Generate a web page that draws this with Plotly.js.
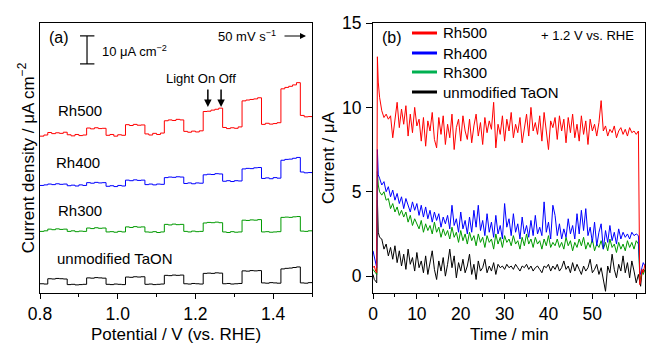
<!DOCTYPE html>
<html>
<head>
<meta charset="utf-8">
<script src="https://cdn.plot.ly/plotly-3.0.1.min.js"></script>
<style>html,body{margin:0;padding:0;background:#fff;}#chart{width:646px;height:344px;}</style>
</head>
<body>
<div id="chart"></div>
<script>
// ---------- Panel (a): chopped-light LSV (offset traces, μA cm^-2) ----------
const potential = [0.80,0.81,0.82,0.83,0.84,0.85,0.86,0.87,0.88,0.89,0.90,0.91,0.92,0.93,0.94,0.95,0.96,0.97,0.98,0.99,1.00,1.01,1.02,1.03,1.04,1.05,1.06,1.07,1.08,1.09,1.10,1.11,1.12,1.13,1.14,1.15,1.16,1.17,1.18,1.19,1.20,1.21,1.22,1.23,1.24,1.25,1.26,1.27,1.28,1.29,1.30,1.31,1.32,1.33,1.34,1.35,1.36,1.37,1.38,1.39,1.40,1.41,1.42,1.43,1.44,1.45,1.46,1.47,1.48,1.49,1.50];

const lsvRh500 = [56.0,56.4, 57.3,56.9,57.2,57.0,57.4, 56.5,56.1,56.6,56.2,56.4, 58.9,58.6,59.0,58.7,58.8, 56.3,56.6,56.0,56.5,56.3, 60.1,59.8,60.2,59.9,60.0, 56.8,56.4,57.0,56.6,57.1, 61.5,61.8,61.6,62.0,61.8, 57.7,57.4,57.8,57.5,57.9, 64.8,64.9,65.3,65.6,66.0, 59.1,58.7,59.0,58.8,59.3, 68.6,68.9,69.1,69.3,69.7, 60.2,60.6,60.3,60.5,60.8, 72.9,73.4,73.8,74.3,75.1, 63.4,62.9,63.0,62.8];
const lsvRh400 = [38.4,38.6, 38.9,38.7,39.0,38.8,38.9, 38.3,38.5,38.2,38.6,38.4, 39.4,39.2,39.5,39.3,39.4, 38.1,38.3,38.0,38.4,38.2, 40.3,40.1,40.4,40.2,40.3, 38.7,38.9,38.6,38.9,38.8, 41.2,41.4,41.3,41.5,41.4, 39.1,39.3,39.0,39.3,39.2, 42.2,42.4,42.3,42.6,42.5, 39.9,40.1,39.8,40.1,40.0, 44.3,44.5,44.4,44.7,44.8, 40.9,41.1,40.8,41.2,41.0, 47.4,47.7,47.8,48.1,48.4, 43.2,42.9,43.0,42.8];
const lsvRh300 = [22.0,22.2, 22.8,22.6,22.9,22.7,22.8, 22.0,22.2,21.9,22.1,22.0, 23.2,23.0,23.3,23.1,23.2, 21.8,21.9,21.7,22.0,21.8, 23.6,23.4,23.7,23.5,23.6, 21.8,21.7,21.9,21.6,21.8, 24.5,24.3,24.6,24.4,24.5, 22.0,21.8,22.1,21.9,22.0, 25.0,25.2,25.1,25.3,25.1, 21.8,21.6,21.9,21.7,21.8, 26.0,25.9,26.1,26.0,26.2, 21.8,21.9,21.7,21.8,21.9, 27.0,27.1,27.0,27.2,27.3, 22.1,22.0,22.2,22.1];
const lsvTaON = [3.3,3.2, 5.1,5.0,5.2,5.1,5.0, 3.0,3.1,2.9,3.0,3.1, 5.4,5.3,5.5,5.4,5.3, 3.1,3.0,3.2,3.1,3.0, 5.7,5.6,5.8,5.7,5.8, 3.1,3.2,3.0,3.1,3.2, 6.3,6.2,6.4,6.3,6.4, 3.3,3.2,3.4,3.3,3.2, 7.0,7.1,7.0,7.2,7.1, 3.3,3.4,3.2,3.3,3.4, 7.9,7.8,8.0,7.9,8.0, 3.6,3.5,3.7,3.6,3.5, 8.6,8.8,8.9,9.1,9.3, 3.6,3.5,3.7,3.6];

// ---------- Panel (b): current vs time at +1.2 V (μA) ----------
const timeMin = [0,0.3,0.6,0.85,1.0,1.2,1.5,
 2.0,2.5,3.0,3.5,4.0,4.5,5.0,5.5,6.0,6.5,
 7.0,7.5,8.0,8.5,9.0,9.5,10.0,10.5,11.0,11.5,
 12.0,12.5,13.0,13.5,14.0,14.5,15.0,15.5,16.0,16.5,
 17.0,17.5,18.0,18.5,19.0,19.5,20.0,20.5,21.0,21.5,
 22.0,22.5,23.0,23.5,24.0,24.5,25.0,25.5,26.0,26.5,
 27.0,27.5,28.0,28.5,29.0,29.5,30.0,30.5,31.0,31.5,
 32.0,32.5,33.0,33.5,34.0,34.5,35.0,35.5,36.0,36.5,
 37.0,37.5,38.0,38.5,39.0,39.5,40.0,40.5,41.0,41.5,
 42.0,42.5,43.0,43.5,44.0,44.5,45.0,45.5,46.0,46.5,
 47.0,47.5,48.0,48.5,49.0,49.5,50.0,50.5,51.0,51.5,
 52.0,52.5,53.0,53.5,54.0,54.5,55.0,55.5,56.0,56.5,
 57.0,57.5,58.0,58.5,59.0,59.5,60.0,60.5,
 60.8,61.0,61.3,61.6,62.0];

const curRh500 = [0.5,0.6,0.3,0.2,13.0,11.5,10.6,
 9.8,9.4,9.6,9.3,9.5,8.2,9.1,10.3,8.8,9.9,
 9.0,10.1,8.3,9.6,8.5,10.0,8.9,9.3,8.0,9.4,
 7.7,9.2,8.6,9.7,8.1,7.6,9.4,8.4,9.5,7.8,
 9.0,8.2,9.6,7.5,8.8,9.3,8.0,9.5,8.6,8.1,
 9.3,7.9,8.9,9.6,8.3,9.1,7.8,9.4,8.5,9.2,
 8.7,10.3,7.6,9.0,8.4,9.5,8.0,9.3,8.6,9.7,
 8.2,9.0,8.5,9.4,7.9,8.8,9.6,8.3,10.0,8.6,
 9.1,8.4,9.5,8.0,9.7,8.6,7.5,9.2,8.8,9.4,
 8.1,9.5,8.6,9.3,7.9,9.4,8.5,9.6,8.2,9.0,
 8.0,9.5,8.4,9.2,7.8,9.3,8.6,9.0,8.3,9.1,
 10.4,8.6,8.9,8.3,8.7,8.5,8.9,8.2,8.6,8.8,
 8.4,8.7,8.3,8.8,8.5,8.6,8.4,8.6,
 -0.5,-0.3,0.4,0.2,0.7];

const curRh400 = [1.5,1.2,0.8,0.5,7.5,6.0,5.8,
 5.4,5.6,5.0,5.3,4.7,5.1,4.5,4.9,4.3,4.7,
 4.0,4.6,4.2,3.8,4.4,3.9,4.3,3.6,4.2,3.5,
 4.1,3.4,3.9,3.2,3.8,3.3,3.7,2.9,3.5,3.1,
 3.6,2.8,4.2,3.0,3.4,2.6,3.8,2.8,3.3,2.5,
 3.5,2.6,3.9,2.9,4.2,2.7,3.3,2.4,3.7,2.6,
 3.2,2.3,3.6,2.5,3.0,2.2,4.3,2.9,3.4,2.4,
 3.7,2.6,3.1,2.2,3.5,2.5,3.0,2.3,3.3,2.4,
 3.6,2.5,2.9,2.4,4.4,2.6,3.2,2.2,4.2,3.6,
 2.4,3.1,2.2,2.8,2.3,3.4,2.5,3.0,2.2,3.7,
 2.5,3.9,2.7,4.0,2.4,2.9,2.0,3.2,1.8,2.6,
 3.1,1.6,2.7,2.0,3.0,2.1,2.6,1.9,2.8,2.2,
 2.6,2.3,2.5,2.2,2.6,2.4,2.5,2.4,
 0.3,0.1,0.5,0.8,0.6];

const curRh300 = [0.4,0.3,0.2,0.1,6.2,5.4,5.0,
 4.8,5.0,4.5,4.6,4.0,4.3,3.8,4.1,3.6,3.9,
 3.5,3.8,3.2,3.6,3.0,3.4,3.1,2.8,3.3,2.6,
 3.1,2.7,3.0,2.5,3.2,2.6,2.9,2.3,2.8,2.4,
 2.7,2.2,2.9,2.3,2.6,2.0,2.7,2.1,2.5,1.9,
 2.6,2.1,2.4,1.8,2.5,2.0,2.3,1.7,2.4,2.0,
 2.2,1.6,2.5,1.9,2.3,1.7,2.4,2.0,2.2,1.8,
 2.4,1.9,2.1,1.6,2.3,1.8,2.5,1.9,2.2,1.7,
 2.3,1.9,2.1,1.6,2.2,1.8,2.4,1.7,2.0,1.8,
 2.2,1.7,2.0,1.6,2.3,1.8,2.1,1.5,2.0,1.7,
 2.2,1.8,2.3,1.6,2.0,1.7,2.2,1.5,1.9,1.7,
 2.1,1.6,2.0,1.5,2.2,1.7,1.9,1.4,2.0,1.6,
 1.9,1.5,2.1,1.7,2.0,1.6,2.1,1.9,
 0.1,-0.2,0.3,0.1,0.4];

const curTaON = [0.1,-0.2,-0.3,-0.4,4.5,2.6,2.3,
 2.2,1.6,1.9,1.2,1.7,1.0,1.8,0.8,1.5,0.6,
 1.3,0.4,1.6,0.7,1.1,0.3,1.4,0.5,0.9,0.2,
 1.2,0.1,0.8,1.5,0.4,-0.2,0.9,0.3,1.1,0.0,
 0.7,1.6,0.5,1.2,-0.1,0.8,0.3,1.0,0.2,0.6,
 1.3,0.1,0.7,-0.2,0.9,0.3,0.5,1.0,0.2,0.6,
 0.3,0.8,0.1,0.7,0.5,0.6,0.4,0.7,0.5,0.6,
 0.4,0.7,0.5,0.3,0.6,0.5,0.7,0.4,0.6,0.3,
 0.5,0.6,0.4,0.2,0.6,0.5,0.7,0.3,0.6,0.4,
 0.7,0.3,0.5,0.9,0.4,0.6,0.2,0.8,0.3,0.7,
 0.4,0.1,0.6,0.3,0.5,1.0,0.2,0.4,0.7,0.1,
 0.5,-0.3,-0.9,0.6,0.2,1.3,0.4,-0.1,0.7,0.3,
 1.2,0.2,0.8,-0.1,0.9,0.3,-0.4,0.1,
 -0.5,-0.6,0.2,0.4,0.3];

const seriesNames = ['Rh500','Rh400','Rh300','unmodified TaON'];
const seriesColors = ['#ff0000','#0000ff','#009a00','#000000'];
const legendColors = ['#ff0000','#0000ff','#00b050','#000000'];

// ---------- layout helpers (pixel -> paper) ----------
const W = 646, H = 344;
const px = x => x / W;
const py = y => 1 - y / H;
const FONT = 'Liberation Sans, Arial, sans-serif';

const lsvData = [lsvTaON, lsvRh300, lsvRh400, lsvRh500];
const drawColors = [seriesColors[3], seriesColors[2], seriesColors[1], seriesColors[0]];
const traces = [];
lsvData.forEach((ys, i) => {
  traces.push({x: potential, y: ys, type: 'scatter', mode: 'lines', line: {color: drawColors[i], width: 1, shape: 'hv'}, xaxis: 'x', yaxis: 'y', showlegend: false, hoverinfo: 'skip'});
});
const ctData = [curTaON, curRh300, curRh400, curRh500];
ctData.forEach((ys, i) => {
  traces.push({x: timeMin, y: ys, type: 'scatter', mode: 'lines', line: {color: drawColors[i], width: 1}, xaxis: 'x2', yaxis: 'y2', showlegend: false, hoverinfo: 'skip'});
});

const yDom = [py(293), py(23)];
const axBase = {showline: true, linecolor: '#000', linewidth: 1, mirror: true, showgrid: false, zeroline: false,
  ticks: 'outside', ticklen: 5, tickwidth: 1, tickcolor: '#000', ticklabelstandoff: 0, tickfont: {family: FONT, size: 17.5, color: '#000'}};

function note(x, y, text, size, opts) {
  return Object.assign({xref: 'paper', yref: 'paper', x: px(x), y: py(y), text: text, showarrow: false,
    xanchor: 'center', yanchor: 'middle', font: {family: FONT, size: size, color: '#000'}}, opts || {});
}

const annotations = [
  note(59, 38, '(a)', 16),
  note(100, 51, '10 μA cm<sup>−2</sup>', 13, {xanchor: 'left'}),
  note(278, 36, '50 mV s<sup>−1</sup>', 13, {xanchor: 'right'}),
  {xref: 'paper', yref: 'paper', x: px(306), y: py(36), ax: -23, ay: 0, text: '', showarrow: true, arrowhead: 2, arrowsize: 1, arrowwidth: 1.2, arrowcolor: '#000'},
  {xref: 'x', yref: 'paper', x: 1.215, y: py(79), xanchor: 'center', yanchor: 'middle', text: 'Light On Off', showarrow: false, font: {family: FONT, size: 13, color: '#000'}},
  {xref: 'x', yref: 'paper', x: 1.232, y: py(107), ax: 0, ay: -19, text: '', showarrow: true, arrowhead: 2, arrowsize: 1, arrowwidth: 1.5, arrowcolor: '#000'},
  {xref: 'x', yref: 'paper', x: 1.266, y: py(107), ax: 0, ay: -19, text: '', showarrow: true, arrowhead: 2, arrowsize: 1, arrowwidth: 1.5, arrowcolor: '#000'},
  note(80, 110, seriesNames[0], 15),
  note(78, 163, seriesNames[1], 15),
  note(80, 210, seriesNames[2], 15),
  note(115, 258, seriesNames[3], 15),
  note(392, 38, '(b)', 16),
  note(636, 36, '+ 1.2 V vs. RHE', 13, {xanchor: 'right'}),
  // x-axis titles
  note(176, 334.5, 'Potential / V (vs. RHE)', 17),
  note(509, 334.5, 'Time / min', 17)
];
const legY = [33, 53, 72, 92];
const shapes = [
  // scale bar (10 μA cm^-2) in panel (a) data units
  {type: 'line', xref: 'x', yref: 'y', x0: 0.921, x1: 0.921, y0: 81.8, y1: 91.8, line: {color: '#000', width: 1.2}},
  {type: 'line', xref: 'x', yref: 'y', x0: 0.903, x1: 0.940, y0: 81.8, y1: 81.8, line: {color: '#000', width: 1.2}},
  {type: 'line', xref: 'x', yref: 'y', x0: 0.903, x1: 0.940, y0: 91.8, y1: 91.8, line: {color: '#000', width: 1.2}}
];
seriesNames.forEach((n, i) => {
  shapes.push({type: 'line', xref: 'paper', yref: 'paper', x0: px(412), x1: px(437), y0: py(legY[i]), y1: py(legY[i]), line: {color: legendColors[i], width: 3}});
  annotations.push(note(441, legY[i], n, 15, {xanchor: 'left'}));
});

const layout = {
  width: W, height: H,
  margin: {l: 0, r: 0, t: 0, b: 0},
  paper_bgcolor: '#fff', plot_bgcolor: '#fff',
  font: {family: FONT, color: '#000'},
  showlegend: false,
  xaxis: Object.assign({}, axBase, {domain: [px(40), px(312)], range: [0.8, 1.5], tick0: 0.8, dtick: 0.2, tickformat: '.1f',
    minor: {dtick: 0.1, ticks: 'outside', ticklen: 3, tickcolor: '#000'}, anchor: 'y'}),
  yaxis: Object.assign({}, axBase, {domain: yDom, range: [0, 96.4], showticklabels: false, ticks: '',
    title: {text: 'Current density / μA cm<sup>−2</sup>', font: {family: FONT, size: 17}, standoff: 0}, anchor: 'x'}),
  xaxis2: Object.assign({}, axBase, {domain: [px(373), px(645)], range: [0, 62], tick0: 0, dtick: 10,
    minor: {dtick: 5, ticks: 'outside', ticklen: 3, tickcolor: '#000'}, anchor: 'y2'}),
  yaxis2: Object.assign({}, axBase, {domain: yDom, range: [-1, 15], tick0: 0, dtick: 5, ticklen: 6, ticklabelstandoff: 1,
    title: {text: 'Current / μA', font: {family: FONT, size: 17}, standoff: 3}, anchor: 'x2'}),
  annotations: annotations,
  shapes: shapes
};

Plotly.newPlot('chart', traces, layout, {staticPlot: true, displayModeBar: false});
</script>
</body>
</html>
